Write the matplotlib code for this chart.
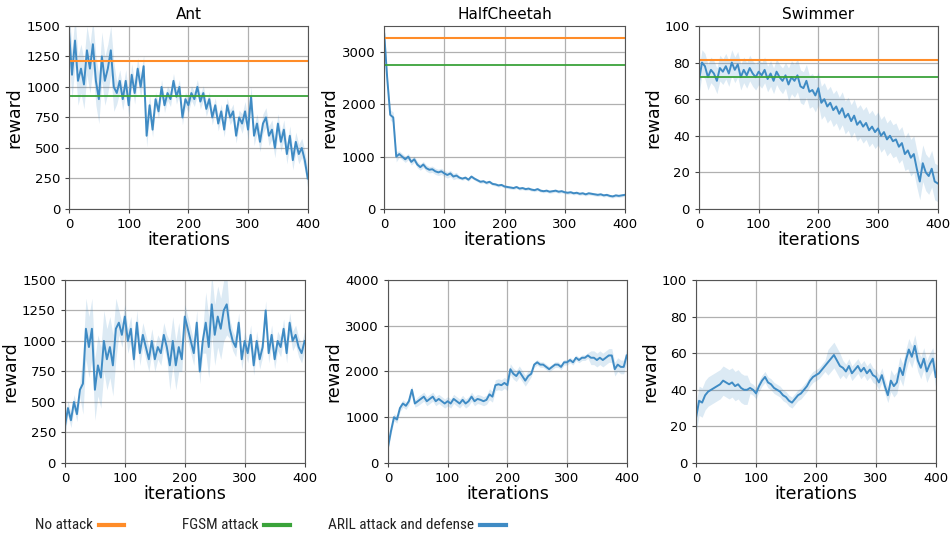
import numpy as np
import matplotlib
matplotlib.use('Agg')
from matplotlib import pyplot as plt
from matplotlib.lines import Line2D

iterations = np.arange(0, 401, 5)
titles = ['Ant', 'HalfCheetah', 'Swimmer']

# horizontal reference levels (top row)
no_attack = [1215, 3270, 81.5]
fgsm_attack = [925, 2760, 72]

# ARIL attack (top row) - mean reward every 5 iterations
ant_attack = [1450, 1100, 1380, 1050, 1150, 1020, 1300, 1150, 1350, 1050, 900, 1250, 1050, 1150, 1300, 1000,
              950, 1050, 900, 1050, 850, 1100, 950, 1150, 1000, 1170, 600, 850, 650, 900, 800, 1000,
              850, 950, 900, 1050, 920, 1000, 750, 900, 850, 950, 900, 1000, 880, 950, 820, 900,
              750, 850, 700, 800, 650, 850, 750, 800, 600, 750, 700, 800, 650, 920, 600, 700,
              550, 700, 750, 600, 650, 500, 700, 550, 650, 450, 600, 400, 550, 450, 500, 400, 250]
cheetah_attack = [3350, 2500, 1800, 1750, 1000, 1050, 1000, 950, 1000, 900, 950, 850, 800, 850, 780, 750,
                  760, 720, 700, 720, 680, 650, 680, 620, 640, 600, 580, 600, 560, 620, 580, 550,
                  520, 530, 500, 520, 480, 470, 450, 460, 430, 420, 410, 400, 420, 390, 400, 380,
                  390, 370, 360, 380, 350, 340, 350, 330, 340, 350, 330, 340, 320, 310, 320, 300,
                  310, 290, 300, 280, 300, 290, 280, 270, 280, 260, 270, 250, 240, 260, 250, 260, 270]
swimmer_attack = [70, 80, 78, 72, 76, 74, 70, 77, 75, 78, 74, 80, 76, 79, 72, 76,
                  73, 77, 74, 72, 75, 73, 76, 71, 74, 70, 75, 72, 70, 73, 68, 72,
                  70, 73, 67, 66, 70, 64, 65, 62, 66, 58, 60, 56, 58, 54, 56, 52,
                  55, 50, 52, 48, 51, 46, 48, 45, 47, 43, 45, 42, 44, 40, 42, 38,
                  40, 37, 38, 34, 36, 30, 32, 28, 30, 22, 15, 25, 20, 18, 22, 15, 14]

# ARIL attack and defense (bottom row)
ant_defense = [300, 450, 350, 500, 400, 600, 650, 1100, 950, 1100, 600, 800, 700, 1000, 850, 950,
               800, 1100, 1150, 1050, 1200, 1000, 1100, 850, 1150, 900, 1050, 950, 850, 1000, 850, 950,
               900, 1050, 950, 800, 1000, 800, 950, 850, 1200, 1100, 1000, 900, 1150, 750, 1000, 1150,
               950, 1300, 1050, 1200, 1100, 1250, 1300, 1100, 1000, 950, 1150, 850, 1000, 900, 1050, 800,
               1000, 850, 950, 1250, 900, 1050, 850, 1000, 950, 1100, 900, 1150, 1000, 1050, 950, 900, 1000]
cheetah_defense = [350, 700, 1000, 950, 1200, 1300, 1250, 1350, 1600, 1300, 1350, 1400, 1450, 1350, 1400, 1450,
                   1350, 1400, 1350, 1300, 1350, 1300, 1400, 1350, 1300, 1380, 1300, 1350, 1450, 1350, 1400, 1380,
                   1350, 1380, 1500, 1450, 1700, 1720, 1700, 1750, 1700, 2050, 1950, 1900, 2000, 1900, 1800, 1900,
                   1950, 2150, 2200, 2150, 2150, 2100, 2050, 2100, 2150, 2150, 2100, 2200, 2200, 2250, 2200, 2300,
                   2250, 2300, 2300, 2350, 2300, 2300, 2250, 2300, 2250, 2300, 2350, 2350, 2050, 2150, 2100, 2100, 2350]
swimmer_defense = [25, 34, 33, 37, 39, 40, 41, 42, 43, 45, 44, 43, 44, 42, 43, 41,
                   40, 40, 41, 40, 38, 42, 45, 47, 44, 43, 41, 40, 39, 37, 36, 34,
                   33, 35, 37, 38, 40, 42, 45, 47, 48, 49, 51, 53, 55, 57, 59, 56,
                   53, 52, 50, 53, 49, 51, 53, 50, 52, 49, 51, 48, 47, 44, 48, 42,
                   37, 45, 42, 44, 52, 48, 56, 62, 58, 64, 56, 52, 57, 50, 54, 57, 47]

# half-width of the shaded band (every 5 iterations)
ant_attack_sd = [200] * 16 + [90] * 12 + [60] * 30 + [80] * 23
cheetah_attack_sd = [100] * 5 + [60] * 20 + [30] * 56
swimmer_attack_sd = [7] * 30 + [9] * 40 + [10] * 11
ant_defense_sd = [60] * 6 + [250] * 12 + [100] * 17 + [200] * 4 + [100] * 8 + [250] * 8 + [80] * 26
cheetah_defense_sd = [80] * 10 + [100] * 24 + [120] * 14 + [60] * 20 + [150] * 13
swimmer_defense_sd = [8] * 18 + [3] * 26 + [7] * 5 + [4] * 16 + [6] * 16

top_series = [ant_attack, cheetah_attack, swimmer_attack]
top_sd = [ant_attack_sd, cheetah_attack_sd, swimmer_attack_sd]
bottom_series = [ant_defense, cheetah_defense, swimmer_defense]
bottom_sd = [ant_defense_sd, cheetah_defense_sd, swimmer_defense_sd]

top_ylim = [1500, 3500, 100]
top_ticks = [np.arange(0, 1501, 250), np.arange(0, 3001, 1000), np.arange(0, 101, 20)]
bottom_ylim = [1500, 4000, 100]
bottom_ticks = [np.arange(0, 1501, 250), np.arange(0, 4001, 1000), np.arange(0, 101, 20)]

blue = '#3f8bc4'
orange = '#ff8c28'
green = '#3aa33a'

fig = plt.figure(figsize=(9.51, 5.40), dpi=100)

top_pos = [[0.0726, 0.613, 0.251, 0.339], [0.404, 0.613, 0.253, 0.339], [0.735, 0.613, 0.251, 0.339]]
bottom_pos = [[0.0683, 0.1426, 0.252, 0.339], [0.408, 0.1426, 0.251, 0.339], [0.732, 0.1426, 0.252, 0.339]]


def style(ax, ymax, yticks):
    ax.set_xlim(0, 400)
    ax.set_ylim(0, ymax)
    ax.set_xticks([0, 100, 200, 300, 400])
    ax.set_yticks(yticks)
    ax.grid(True, color='#b0b0b0', linewidth=0.9)
    ax.set_axisbelow(True)
    ax.tick_params(labelsize=9.5, length=3, color='#444444')
    for s in ax.spines.values():
        s.set_color('#555555')
    ax.set_xlabel('iterations', fontsize=12.5, labelpad=0)
    ax.set_ylabel('reward', fontsize=12.5, labelpad=2)


for i in range(3):
    ax = fig.add_axes(top_pos[i])
    y = np.array(top_series[i])
    sd = np.array(top_sd[i])
    ax.fill_between(iterations, y - sd, y + sd, color=blue, alpha=0.18, linewidth=0)
    ax.plot(iterations, y, color=blue, linewidth=1.4)
    ax.axhline(no_attack[i], color=orange, linewidth=1.5)
    ax.axhline(fgsm_attack[i], color=green, linewidth=1.3)
    style(ax, top_ylim[i], top_ticks[i])
    ax.set_title(titles[i], fontsize=11, pad=5)

    ax = fig.add_axes(bottom_pos[i])
    y = np.array(bottom_series[i])
    sd = np.array(bottom_sd[i])
    ax.fill_between(iterations, y - sd, y + sd, color=blue, alpha=0.18, linewidth=0)
    ax.plot(iterations, y, color=blue, linewidth=1.4)
    style(ax, bottom_ylim[i], bottom_ticks[i])

# legend row at the bottom: label then a short line sample
legend_font = ['Roboto Condensed', 'Lato', 'DejaVu Sans']
entries = [('No attack', orange, 0.037, 0.086, 0.112),
           ('FGSM attack', green, 0.191, 0.255, 0.282),
           ('ARIL attack and defense', blue, 0.345, 0.462, 0.490)]
for label, c, tx, x0, x1 in entries:
    t = fig.text(tx, 0.028, label, fontsize=11, family=legend_font, va='center', color='#222222')
    # keep the line sample just after the label
    fig.canvas.draw()
    bb = t.get_window_extent().transformed(fig.transFigure.inverted())
    start = max(x0, bb.x1 + 0.006)
    fig.add_artist(Line2D([start, start + (x1 - x0)], [0.028, 0.028], color=c, linewidth=3,
                          transform=fig.transFigure))

fig.savefig('out.png', dpi=100)
